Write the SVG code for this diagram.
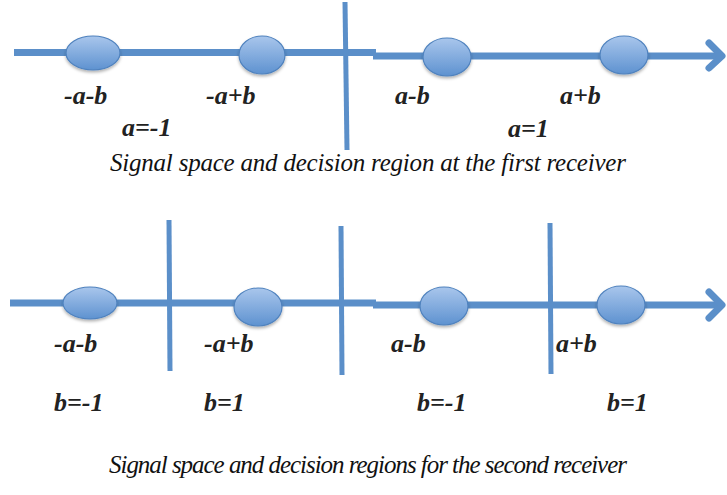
<svg xmlns="http://www.w3.org/2000/svg" width="727" height="495" viewBox="0 0 727 495">
<defs>
<linearGradient id="eg" x1="0" y1="0" x2="0" y2="1">
<stop offset="0" stop-color="#A9C6EC"/>
<stop offset="1" stop-color="#5E92D0"/>
</linearGradient>
<filter id="sh" x="-30%" y="-30%" width="160%" height="170%">
<feDropShadow dx="0" dy="2" stdDeviation="1.5" flood-color="#000" flood-opacity="0.3"/>
</filter>
</defs>
<style>
.ln{stroke:#5B8FC9;stroke-width:7;fill:none}
.vl{stroke:#5B8FC9;stroke-width:5;fill:none}
.ah{stroke:#5B8FC9;stroke-width:7;fill:none;stroke-linecap:round;stroke-linejoin:round}
.nd{fill:url(#eg);stroke:#4F82BE;stroke-width:1.2;filter:url(#sh)}
.lb{font-family:"Liberation Serif","Times New Roman",serif;font-style:italic;font-weight:bold;font-size:26px;fill:#222}
.cap{font-family:"Liberation Serif","Times New Roman",serif;font-style:italic;font-size:25px;fill:#111}
</style>
<g id="connectors">
<line class="ln" x1="14" y1="52.5" x2="376" y2="52.5"/>
<line class="ln" x1="373" y1="56" x2="718" y2="56"/>
<polyline class="ah" points="709,43 722,56 709,68"/>
<line class="vl" x1="345" y1="2" x2="347" y2="150"/>
<line class="ln" x1="10" y1="303" x2="376" y2="303"/>
<line class="ln" x1="373" y1="305" x2="718" y2="305"/>
<polyline class="ah" points="709,292 722,305 709,318"/>
<line class="vl" x1="169" y1="220" x2="170" y2="371"/>
<line class="vl" x1="341" y1="226" x2="342" y2="375"/>
<line class="vl" x1="550" y1="223" x2="551" y2="374"/>
</g>
<g id="n1"><ellipse class="nd" cx="93" cy="53" rx="27" ry="17"/><text class="lb" x="64" y="104">-a-b</text></g>
<g id="n2"><ellipse class="nd" cx="262" cy="55" rx="23" ry="19"/><text class="lb" x="206" y="104">-a+b</text></g>
<g id="n3"><ellipse class="nd" cx="447" cy="57" rx="24" ry="19"/><text class="lb" x="395" y="104">a-b</text></g>
<g id="n4"><ellipse class="nd" cx="624" cy="55" rx="24" ry="19"/><text class="lb" x="560" y="104">a+b</text></g>
<text class="lb" x="122" y="136">a=-1</text>
<text class="lb" x="508" y="137">a=1</text>
<text class="cap" x="368" y="171" text-anchor="middle" textLength="516">Signal space and decision region at the first receiver</text>
<g id="m1"><ellipse class="nd" cx="90" cy="303" rx="27" ry="16"/><text class="lb" x="54" y="352">-a-b</text></g>
<g id="m2"><ellipse class="nd" cx="258" cy="307" rx="24" ry="19"/><text class="lb" x="204" y="352">-a+b</text></g>
<g id="m3"><ellipse class="nd" cx="444" cy="306" rx="24" ry="19"/><text class="lb" x="391" y="352">a-b</text></g>
<g id="m4"><ellipse class="nd" cx="621" cy="305" rx="24" ry="19"/><text class="lb" x="556" y="352">a+b</text></g>
<text class="lb" x="54" y="411">b=-1</text>
<text class="lb" x="204" y="411">b=1</text>
<text class="lb" x="417" y="411">b=-1</text>
<text class="lb" x="607" y="411">b=1</text>
<text class="cap" x="368" y="473" text-anchor="middle" textLength="518">Signal space and decision regions for the second receiver</text>
</svg>
